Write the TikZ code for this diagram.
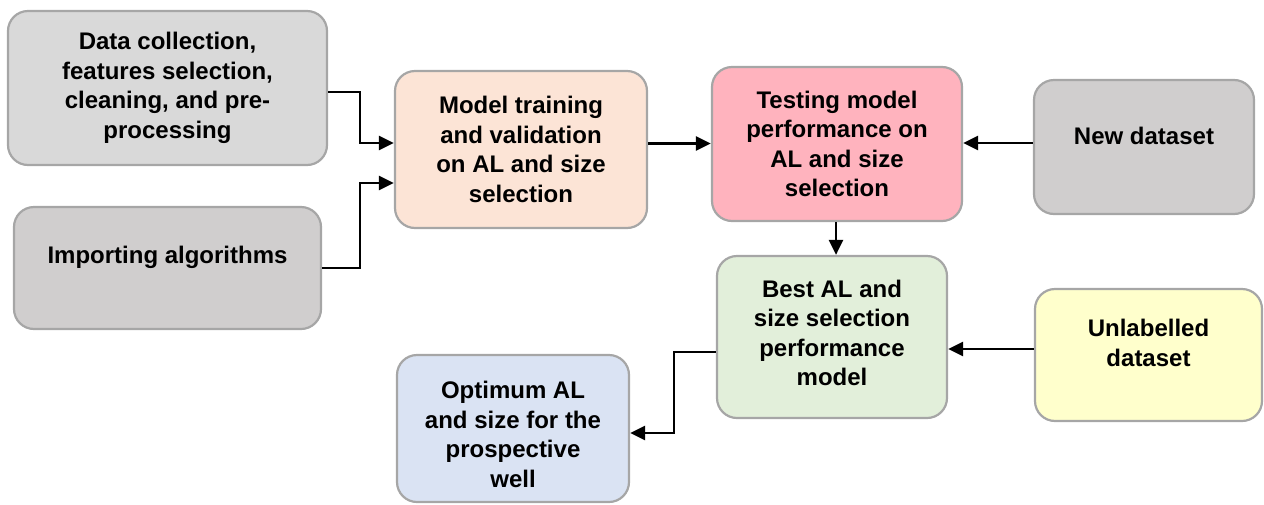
\documentclass[tikz,border=0pt]{standalone}
\usepackage{fontspec}
\setmainfont{Liberation Sans}
\usetikzlibrary{arrows.meta,calc}
\definecolor{bord}{HTML}{A6A6A6}
\definecolor{gA}{HTML}{D9D9D9}
\definecolor{gB}{HTML}{D0CECE}
\definecolor{peach}{HTML}{FCE4D6}
\definecolor{pink}{HTML}{FFB3BE}
\definecolor{green}{HTML}{E2EFDA}
\definecolor{yel}{HTML}{FFFFCC}
\definecolor{blu}{HTML}{DAE3F3}
\tikzset{
  box/.style={draw=bord, line width=2.2pt, rounded corners=20pt, inner sep=0pt},
  txt/.style={align=center, font=\fontsize{24}{29.5}\selectfont\bfseries, text=black},
  arr/.style={line width=2.7pt, -{Triangle[length=15pt,width=14pt]}}
}
\begin{document}
\begin{tikzpicture}[x=1pt,y=-1pt]
\useasboundingbox (0,0) rectangle (1264,504);
\node[box, fill=gA, minimum width=319pt, minimum height=154pt,
  label={[txt]center:Data collection,\\features selection,\\cleaning, and pre-\\processing}] (b1) at (167.5,88) {};
\node[box, fill=gB, minimum width=307pt, minimum height=122pt,
  label={[txt,yshift=11pt]center:Importing algorithms}] (b2) at (167.5,268) {};
\node[box, fill=peach, minimum width=252pt, minimum height=157pt,
  label={[txt]center:Model training\\and validation\\on AL and size\\selection}] (b3) at (521,149.5) {};
\node[box, fill=pink, minimum width=250pt, minimum height=154pt,
  label={[txt]center:Testing model\\performance on\\AL and size\\selection}] (b4) at (837,144) {};
\node[box, fill=gB, minimum width=220pt, minimum height=134pt,
  label={[txt,yshift=11pt]center:New dataset}] (b5) at (1144,147) {};
\node[box, fill=green, minimum width=230pt, minimum height=162pt,
  label={[txt,yshift=4pt]center:Best AL and\\size selection\\performance\\model}] (b6) at (832,337) {};
\node[box, fill=yel, minimum width=227pt, minimum height=132pt,
  label={[txt,yshift=12pt]center:Unlabelled\\dataset}] (b7) at (1148.5,355) {};
\node[box, fill=blu, minimum width=232pt, minimum height=147pt,
  label={[txt,yshift=-6pt]center:Optimum AL\\and size for the\\prospective\\well}] (b8) at (513,428.5) {};

\draw[arr] ([yshift=-4pt]b1.east) -- ++(32pt,0) |- ([yshift=6.5pt]b3.west);
\draw[arr] (b2.east) -- ++(38pt,0) |- ([yshift=-33.5pt]b3.west);
\draw[arr] ([yshift=6pt]b3.east) -- ([yshift=6pt]b3.east -| b4.west);
\draw[arr] ([yshift=4pt]b5.west) -- ([yshift=4pt]b5.west -| b4.east);
\draw[arr] ([xshift=-1pt]b4.south) -- ([xshift=-1pt]b4.south |- b6.north);
\draw[arr] ([yshift=6pt]b7.west) -- ([yshift=6pt]b7.west -| b6.east);
\draw[arr] ([yshift=-15pt]b6.west) -- ++(-42pt,0) |- ([yshift=-4.5pt]b8.east);
\end{tikzpicture}
\end{document}
